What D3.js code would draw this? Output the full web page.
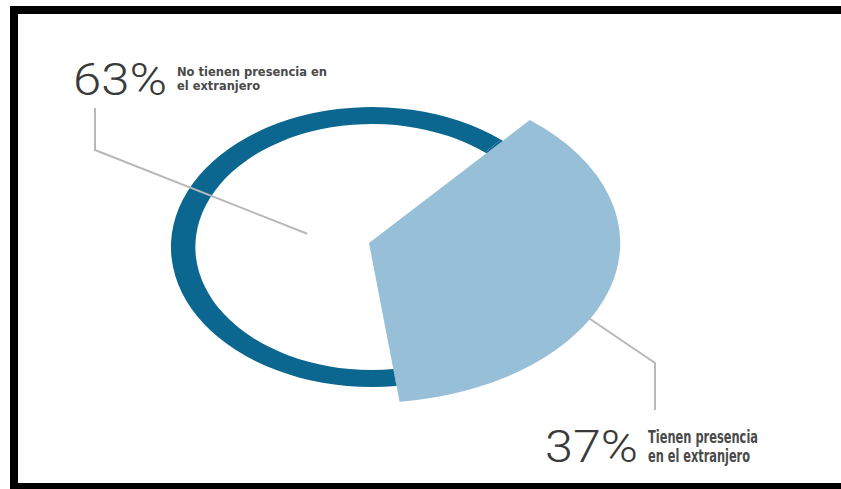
<!DOCTYPE html>
<meta charset="utf-8">
<style>
body { margin: 0; background: white; }
.ring { fill: #0b6690; }
.slice { fill: #98bfd8; }
.leader { fill: none; stroke: #b8b8b8; stroke-width: 2px; }
.pct { font-family: Roboto, sans-serif; font-weight: 300; font-size: 45px; fill: #3a3a3a; }
.desc { font-family: "Liberation Sans Narrow", "DejaVu Sans Condensed", sans-serif; font-weight: bold; fill: #4a4a4a; }
.frame { fill: black; }
</style>
<svg width="841" height="489"></svg>
<script src="https://d3js.org/d3.v7.min.js"></script>
<script>

var categories = ["No tienen presencia en el extranjero", "Tienen presencia en el extranjero"];
var values = [63, 37];
var pctLabels = ["63%", "37%"];
var descLines = [["No tienen presencia en", "el extranjero"], ["Tienen presencia", "en el extranjero"]];

var svg = d3.select("svg");
var deg = Math.PI / 180;

// frame (left, top, bottom - the right side is cut off in the original)
svg.append("rect").attr("class", "frame").attr("x", 10).attr("y", 6).attr("width", 8).attr("height", 483);
svg.append("rect").attr("class", "frame").attr("x", 10).attr("y", 6).attr("width", 831).attr("height", 8);
svg.append("rect").attr("class", "frame").attr("x", 10).attr("y", 483).attr("width", 831).attr("height", 6);

var pie = d3.pie().sort(null)
    .startAngle(173 * deg)
    .endAngle(533 * deg);
var arcs = pie(values);

// ring is drawn a bit flattened like the picture
var ringSx = 1.436, ringCx = 372, ringCy = 247;
var sliceSx = 1.57, sliceCx = 369, sliceCy = 243;

var ringArc = d3.arc().innerRadius(123).outerRadius(140);
var sliceArc = d3.arc().innerRadius(0).outerRadius(160);
var ringLabelArc = d3.arc().innerRadius(47).outerRadius(47);
var sliceLabelArc = d3.arc().innerRadius(100).outerRadius(100);

var ring = svg.append("g")
    .attr("transform", "translate(" + ringCx + "," + ringCy + ") scale(" + ringSx + ",1)");
ring.selectAll("path")
    .data(arcs)
  .enter().append("path")
    .attr("class", "ring")
    .attr("d", ringArc);

// leader for the 37% slice sits under the slice
var c1 = sliceLabelArc.centroid(arcs[1]);
var p1 = [sliceCx + c1[0] * sliceSx, sliceCy + c1[1]];
svg.append("path")
    .attr("class", "leader")
    .attr("d", d3.line()([p1, [655, 363], [655, 410]]));

svg.append("g")
    .attr("transform", "translate(" + sliceCx + "," + sliceCy + ") scale(" + sliceSx + ",1)")
  .append("path")
    .datum(arcs[1])
    .attr("class", "slice")
    .attr("d", sliceArc);

var c0 = ringLabelArc.centroid(arcs[0]);
var p0 = [ringCx + c0[0] * ringSx, ringCy + c0[1]];
svg.append("path")
    .attr("class", "leader")
    .attr("d", d3.line()([[95, 108], [95, 150], p0]));

// labels
var labelPos = [
  {x: 73, y: 95, w: 94, dx: 177, lines: [76, 90], size: 13, lw: [150, 83]},
  {x: 545, y: 462, w: 93, dx: 648, lines: [443, 462], size: 17, lw: [110, 102]}
];

labelPos.forEach(function(p, i) {
  svg.append("text")
      .attr("class", "pct")
      .attr("x", p.x)
      .attr("y", p.y)
      .attr("textLength", p.w)
      .attr("lengthAdjust", "spacingAndGlyphs")
      .text(pctLabels[i]);
  descLines[i].forEach(function(line, j) {
    svg.append("text")
        .attr("class", "desc")
        .attr("x", p.dx)
        .attr("y", p.lines[j])
        .attr("font-size", p.size)
        .attr("textLength", p.lw[j])
        .attr("lengthAdjust", "spacingAndGlyphs")
        .text(line);
  });
});

</script>
